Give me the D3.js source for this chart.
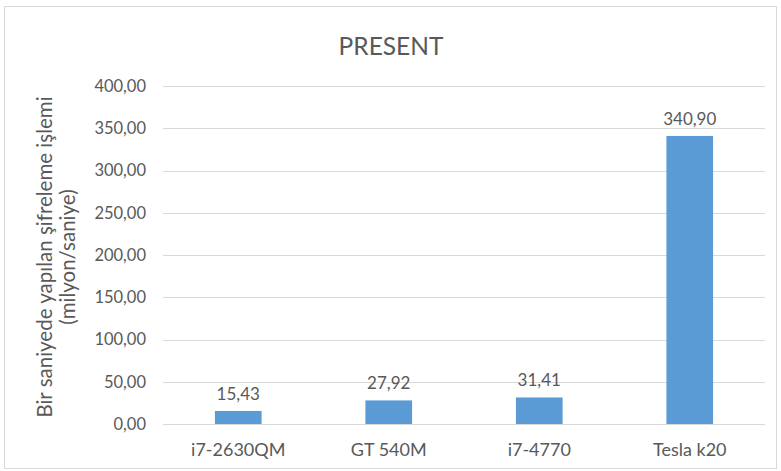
<!DOCTYPE html>
<html>
<head>
<meta charset="utf-8">
<script src="https://cdn.jsdelivr.net/npm/d3@7"></script>
<style>
  body { margin: 0; background: #fff; }
  text { font-family: Lato, "Open Sans", sans-serif; fill: #595959; }
</style>
</head>
<body>
<div id="chart"></div>
<script>
var categories = ["i7-2630QM", "GT 540M", "i7-4770", "Tesla k20"];
var values = [15.43, 27.92, 31.41, 340.90];
var yTicks = [0, 50, 100, 150, 200, 250, 300, 350, 400];
var titleText = "PRESENT";
var yLabel = ["Bir saniyede yapılan şifreleme işlemi", "(milyon/saniye)"];

function fmt(v) {
    return d3.format(".2f")(v).replace(".", ",");
}

function createChart(div) {
    var width = 781, height = 471;
    var left = 163, right = 765, top = 86, bottom = 424;

    var svg = d3.select(div)
        .append("svg")
        .attr("width", width)
        .attr("height", height);

    // chart frame
    svg.append("rect")
        .attr("x", 4.5)
        .attr("y", 6.5)
        .attr("width", 772)
        .attr("height", 462)
        .attr("fill", "#fff")
        .attr("stroke", "#d9d9d9");

    var x = d3.scaleBand()
        .domain(categories)
        .range([left, right]);

    var y = d3.scaleLinear()
        .domain([0, 400])
        .range([bottom, top]);

    // gridlines
    svg.selectAll(".grid")
        .data(yTicks)
        .enter()
        .append("line")
        .attr("x1", left)
        .attr("x2", right)
        .attr("y1", function(d) { return Math.round(y(d)) + 0.5; })
        .attr("y2", function(d) { return Math.round(y(d)) + 0.5; })
        .attr("stroke", "#d9d9d9");

    // y axis labels
    var yAxis = d3.axisLeft(y)
        .tickValues(yTicks)
        .tickSize(0)
        .tickPadding(17)
        .tickFormat(fmt);
    var gy = svg.append("g")
        .attr("transform", "translate(" + left + ",0)")
        .call(yAxis);
    gy.select(".domain").remove();
    gy.selectAll("text")
        .style("font-size", "16.5px")
        .style("font-family", "Lato, sans-serif")
        .attr("fill", "#595959");

    // x axis labels
    var xAxis = d3.axisBottom(x)
        .tickSize(0)
        .tickPadding(19);
    var gx = svg.append("g")
        .attr("transform", "translate(0," + bottom + ")")
        .call(xAxis);
    gx.select(".domain").remove();
    gx.selectAll("text")
        .style("font-size", "18px")
        .style("font-family", "Lato, sans-serif")
        .attr("fill", "#595959");

    var barW = x.bandwidth() * 0.31;

    svg.selectAll(".bar")
        .data(values)
        .enter()
        .append("rect")
        .attr("class", "bar")
        .attr("x", function(d, i) { return x(categories[i]) + x.bandwidth() / 2 - barW / 2; })
        .attr("y", function(d) { return y(d); })
        .attr("width", barW)
        .attr("height", function(d) { return y(0) - y(d); })
        .attr("fill", "#5b9bd5");

    svg.selectAll(".val")
        .data(values)
        .enter()
        .append("text")
        .attr("x", function(d, i) { return x(categories[i]) + x.bandwidth() / 2; })
        .attr("y", function(d) { return y(d) - 11; })
        .attr("text-anchor", "middle")
        .style("font-size", "17px")
        .text(fmt);

    svg.append("text")
        .attr("x", 391)
        .attr("y", 55)
        .attr("text-anchor", "middle")
        .style("font-size", "24.5px")
        .text(titleText);

    svg.selectAll(".ylab")
        .data(yLabel)
        .enter()
        .append("text")
        .attr("transform", function(d, i) {
            return "translate(" + (52 + i * 23) + ",257) rotate(-90)";
        })
        .attr("text-anchor", "middle")
        .style("font-size", "20.5px")
        .text(function(d) { return d; });
}

createChart("#chart");
</script>
</body>
</html>
